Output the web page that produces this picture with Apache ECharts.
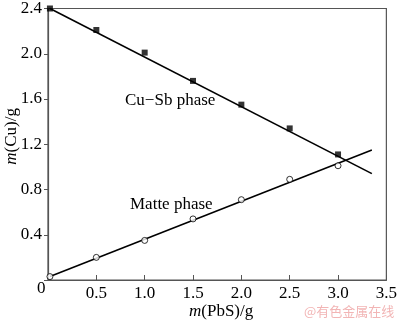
<!DOCTYPE html>
<html><head><meta charset="utf-8">
<script src="https://cdn.jsdelivr.net/npm/echarts@6/dist/echarts.min.js"></script>
<style>html,body{margin:0;padding:0;background:#fff}#c{width:400px;height:322px}</style>
</head><body><div id="c"></div>
<script>
const xValues = [0.02, 0.5, 1.0, 1.5, 2.0, 2.5, 3.0];
const cuSbValues = [2.40, 2.21, 2.01, 1.76, 1.55, 1.34, 1.11];
const matteValues = [0.03, 0.20, 0.35, 0.54, 0.71, 0.89, 1.01];
const fitX = [0.02, 3.35];
const cuSbFit = [2.40, 0.94];
const matteFit = [0.03, 1.15];
const xTicks = [0, 0.5, 1.0, 1.5, 2.0, 2.5, 3.0, 3.5];
const yTicks = [0, 0.4, 0.8, 1.2, 1.6, 2.0, 2.4];

const font = '"Liberation Serif","DejaVu Serif",serif';
const pair = (xs, ys) => xs.map((x, i) => [x, ys[i]]);
const chart = echarts.init(document.getElementById('c'));
chart.setOption({
  animation: false,
  grid: {left: 48, right: 9, top: 6, bottom: 42, show: true, borderColor: '#555', borderWidth: 1.2},
  xAxis: {
    type: 'value', min: 0, max: 3.5, interval: 0.5,
    axisLine: {lineStyle: {color: '#555', width: 1.2}},
    axisTick: {inside: true, length: 5, lineStyle: {color: '#555'}},
    splitLine: {show: false},
    axisLabel: {color: '#000', fontFamily: font, fontSize: 17, margin: 5,
      formatter: v => v === 0 ? '' : v.toFixed(1)}
  },
  yAxis: {
    type: 'value', min: 0, max: 2.4, interval: 0.4,
    axisLine: {lineStyle: {color: '#555', width: 1.2}},
    axisTick: {inside: false, length: 4, lineStyle: {color: '#555'}},
    splitLine: {show: false},
    axisLabel: {color: '#000', fontFamily: font, fontSize: 17, margin: 6,
      formatter: v => v === 0 ? '' : v.toFixed(1)}
  },
  series: [
    {type: 'line', data: pair(fitX, cuSbFit), symbol: 'none', lineStyle: {color: '#000', width: 1.6}, z: 2},
    {type: 'line', data: pair(fitX, matteFit), symbol: 'none', lineStyle: {color: '#000', width: 1.6}, z: 2},
    {type: 'scatter', data: pair(xValues, cuSbValues), symbol: 'rect', symbolSize: 6,
      itemStyle: {color: '#000'}, z: 3},
    {type: 'scatter', data: pair(xValues, matteValues), symbol: 'circle', symbolSize: 6,
      itemStyle: {color: '#fff', borderColor: '#000', borderWidth: 1}, z: 3}
  ],
  graphic: [
    {type: 'text', left: 37, top: 280, style: {text: '0', font: '17px ' + font, fill: '#000'}},
    {type: 'text', left: 125, top: 92, style: {text: 'Cu\u2212Sb phase', font: '17px ' + font, fill: '#000'}},
    {type: 'text', left: 130, top: 196, style: {text: 'Matte phase', font: '17px ' + font, fill: '#000'}},
    {type: 'text', left: 189, top: 303, style: {
      rich: {i: {fontStyle: 'italic', fontFamily: font, fontSize: 17, fill: '#000'},
             n: {fontFamily: font, fontSize: 17, fill: '#000'}},
      text: '{i|m}{n|(PbS)/g}'}},
    {type: 'text', left: 3, top: 108, rotation: Math.PI / 2, style: {
      rich: {i: {fontStyle: 'italic', fontFamily: font, fontSize: 17, fill: '#000'},
             n: {fontFamily: font, fontSize: 17, fill: '#000'}},
      text: '{i|m}{n|(Cu)/g}'}},
    {type: 'text', left: 304, top: 305, style: {text: '@有色金属在线', font: '13px "Noto Sans CJK SC"', fill: '#f2b5b5'}}
  ]
});
</script></body></html>
